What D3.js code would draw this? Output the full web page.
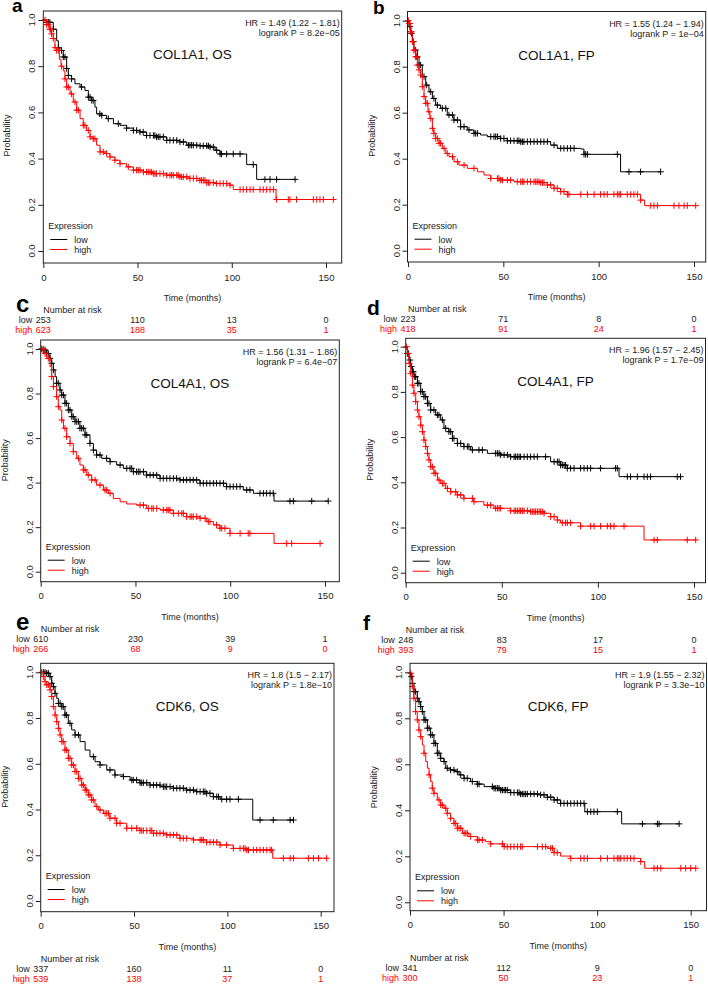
<!DOCTYPE html>
<html>
<head>
<meta charset="utf-8">
<script src="https://cdn.jsdelivr.net/npm/d3@7"></script>
<style>
  body { margin: 0; background: #fff; }
  svg { display: block; font-family: "Liberation Sans", Arial, sans-serif; }
</style>
</head>
<body>
<svg id="chart" width="708" height="986"></svg>
<script>
// ---- data ----
var panelLetters = ["a", "b", "c", "d", "e", "f"];
var titles = ["COL1A1, OS", "COL1A1, FP", "COL4A1, OS", "COL4A1, FP", "CDK6, OS", "CDK6, FP"];
var hrLines = ["HR = 1.49 (1.22 \u2212 1.81)", "HR = 1.55 (1.24 \u2212 1.94)", "HR = 1.56 (1.31 \u2212 1.86)",
               "HR = 1.96 (1.57 \u2212 2.45)", "HR = 1.8 (1.5 \u2212 2.17)", "HR = 1.9 (1.55 \u2212 2.32)"];
var pLines = ["logrank P = 8.2e\u221205", "logrank P = 1e\u221204", "logrank P = 6.4e\u221207",
              "logrank P = 1.7e\u221209", "logrank P = 1.8e\u221210", "logrank P = 3.3e\u221210"];
var xTicks = [0, 50, 100, 150];
var yTicks = [0, 0.2, 0.4, 0.6, 0.8, 1.0];
var riskTimes = [0, 50, 100, 150];
var riskLow = [[253, 110, 13, 0], [223, 71, 8, 0], [610, 230, 39, 1], [248, 83, 17, 0], [337, 160, 11, 0], [341, 112, 9, 0]];
var riskHigh = [[623, 188, 35, 1], [418, 91, 24, 1], [266, 68, 9, 0], [393, 79, 15, 1], [539, 138, 37, 1], [300, 50, 23, 1]];

// step points [month, survival] and censor times
var aLow = [[0,1],[1.8,0.99],[5.3,0.96],[7.1,0.91],[8,0.88],[8.8,0.868],[10.6,0.84],[12.4,0.79],[13.3,0.76],[15,0.745],[16.8,0.724],[19.5,0.71],[22.1,0.695],[23.9,0.666],[25.7,0.652],[27.4,0.623],[28.3,0.594],[31,0.587],[33.6,0.573],[37.2,0.551],[40.7,0.544],[44.2,0.532],[47.8,0.522],[51.3,0.515],[54.8,0.5],[60.1,0.494],[65.5,0.479],[72.5,0.472],[76.1,0.458],[83.2,0.455],[88.5,0.45],[91.1,0.436],[93.8,0.42],[107.9,0.374],[113.2,0.31]];
var aLowCens = [1.8,2.7,3.5,5.3,8,9.7,10.6,11.5,12.4,13.3,15,20.3,23.9,24.8,25.7,26.5,30,31,34.5,39.8,44.2,47.8,49.5,51.3,53,54.8,56.6,58.4,59.2,60.1,61,61.9,63.7,65.5,67.2,69,70.8,72.5,74.3,77,77.8,78.7,79.6,81.4,83.2,84.9,86.7,87.6,88.5,90.2,92,93.8,94.6,97.3,100.8,104.4,111.4,117.6,120.3,123.8,133.6];
var aHigh = [[0,1],[1.8,0.98],[3.5,0.96],[4.4,0.94],[5.3,0.92],[6.2,0.88],[7.1,0.868],[8.5,0.83],[9.4,0.8],[10.6,0.78],[11.5,0.745],[12.4,0.71],[14.2,0.68],[15.9,0.645],[17.7,0.61],[19.5,0.573],[21.2,0.544],[23,0.522],[24.8,0.494],[26.5,0.486],[28.3,0.458],[30.1,0.429],[32.7,0.422],[35.4,0.407],[38,0.393],[40.7,0.378],[44.2,0.364],[47.8,0.35],[53.1,0.342],[58.4,0.335],[65.5,0.328],[72.5,0.321],[77.8,0.314],[83.1,0.306],[86.7,0.296],[92,0.292],[99.1,0.285],[100.8,0.266],[123.5,0.223]];
var aHighCens = [0.9,1.8,2.7,3.5,3.9,4.4,5.3,6.2,7.1,8,9.7,11.5,12.4,13.3,15,16.8,17.7,18.6,21.2,22.1,23.9,24.8,26.5,27.4,30.1,31.8,33.6,35.4,38,40.7,45.1,47.8,49.5,50.4,51.3,53.1,54.8,55.7,56.6,57.5,58.4,59.3,60.1,61.9,63.7,65.5,67.2,68.1,69,70.8,71.6,72.5,73.4,74.3,76.1,77.8,79.6,81.4,83.1,84,84.9,85.8,86.7,87.6,88.4,90.2,92,93.8,95.5,97.3,99.1,104.4,106.1,107.9,109.7,111.4,115,116.7,118.5,120.3,122.1,123.8,130,130.9,134.4,143.3,145.1,146.8,148.6,153.9];

var bLow = [[0,1],[0.5,0.974],[1.4,0.945],[2.3,0.909],[3.1,0.872],[4.9,0.843],[5.8,0.807],[7.5,0.757],[9.3,0.72],[11,0.691],[12.8,0.662],[14.5,0.633],[17.1,0.619],[20.6,0.59],[24.1,0.568],[27.6,0.539],[31.1,0.525],[34.6,0.51],[38.1,0.503],[41.6,0.496],[48.6,0.488],[52.1,0.478],[59.1,0.474],[74.8,0.459],[78.3,0.445],[90.6,0.442],[92.3,0.419],[111.5,0.343]];
var bLowCens = [1,1.8,2.8,4,4.9,5.8,6.6,8.4,9.8,11.9,13.6,15.4,18,19.8,21.5,23.3,24.1,25.9,27.6,29.4,32,34.6,35.5,36.4,43.4,45.1,46,46.9,48.6,50.3,52.1,53.8,55.6,57.3,58.2,59.1,60,60.8,62.6,64.3,66.1,67.8,69.6,71.3,73.1,76.6,80.1,81.8,83.6,85.3,87.1,92.3,93.2,94.1,109.8,115.9,122,132.5];
var bHigh = [[0,1],[0.5,0.988],[1.4,0.952],[2.3,0.909],[3.1,0.872],[4,0.843],[4.9,0.807],[5.8,0.786],[6.6,0.764],[7.5,0.713],[8.4,0.67],[9.3,0.641],[10.5,0.604],[11.5,0.575],[12.8,0.532],[13.6,0.51],[14.5,0.488],[16.3,0.467],[18,0.445],[19.8,0.423],[21.5,0.409],[24.1,0.387],[26.7,0.372],[31.1,0.358],[36.4,0.343],[39.9,0.329],[43.4,0.314],[48.6,0.307],[55.6,0.3],[69.6,0.296],[73.1,0.286],[76.6,0.271],[80.1,0.257],[83.6,0.245],[122,0.22],[124.1,0.196]];
var bHighCens = [0.2,0.7,1,1.4,1.7,2.3,2.8,3.1,3.7,4,4.5,4.9,5.8,6.6,7.5,8.4,9.3,10.1,11,11.9,12.8,13.6,14.5,15.4,16.3,17.1,18.9,20.6,23.3,25.9,29.4,34.6,43.4,46.9,47.7,48.6,49.5,52.1,53.8,57.3,59.1,60,60.8,62.6,64.3,66.1,67,67.8,68.7,69.6,70.5,71.3,73.1,74.8,76.6,78.3,80.1,81.8,83.6,84.4,90.6,94.1,97.6,101,102.8,104.5,108,109.8,110.7,111.5,115,116.8,118.5,120.3,122,127.3,129,130.8,139.5,142.1,144.8,146.5,150.9];

var cLow = [[0,1],[1.4,0.996],[3.2,0.98],[4.9,0.958],[5.8,0.936],[6.7,0.906],[7.6,0.876],[8.4,0.846],[10.2,0.816],[11.1,0.793],[12.8,0.756],[14.6,0.726],[16.4,0.696],[18.1,0.674],[20.7,0.644],[23.4,0.614],[26,0.576],[27.8,0.546],[29.5,0.524],[32.2,0.509],[36.6,0.494],[40.1,0.479],[43.6,0.464],[48.9,0.449],[55.9,0.434],[63,0.419],[73.5,0.412],[84.1,0.397],[98.1,0.382],[106.9,0.367],[112.2,0.352],[123.1,0.317]];
var cLowCens = [0.5,1.4,2.3,3.2,4,4.9,5.8,6.7,8.4,9.3,10.2,11.1,12,12.8,13.7,14.6,15.5,16.4,17.2,18.1,19,19.9,20.7,21.6,22.5,23.4,24.3,26,27.8,29.5,31.3,34.8,36.6,41.9,45.4,47.1,48,48.9,50.6,51.5,52.4,54.2,55.9,57.7,59.4,61.2,63,64.7,66.5,68.2,70,71.7,73.5,75.3,77,78.8,80.5,82.3,84.1,85.8,87.6,89.3,91.1,92.8,94.6,96.4,98.1,99.9,101.6,103.4,105.2,108.7,110.4,115.7,117.5,119.2,121,122.7,131.5,133.3,143,151.7];
var cHigh = [[0,1],[2.3,0.98],[3.2,0.958],[4.9,0.921],[5.8,0.876],[6.7,0.831],[8.4,0.786],[9.3,0.741],[10.2,0.726],[11.1,0.681],[12,0.644],[13.7,0.606],[15.5,0.576],[17.2,0.539],[19,0.509],[20.7,0.479],[22.5,0.457],[24.3,0.434],[26.9,0.412],[29.5,0.389],[33.1,0.367],[35.7,0.352],[38.3,0.329],[41.9,0.314],[45.4,0.304],[50.6,0.299],[55.9,0.284],[63,0.277],[70,0.262],[77,0.247],[84.1,0.24],[87.6,0.225],[91.1,0.21],[94.6,0.195],[99.9,0.172],[123.1,0.127]];
var cHighCens = [0.5,1.4,2.3,4,5.8,6.7,8.4,9.3,11.1,12.8,13.7,15.5,17.2,19.9,22.5,23.4,25.1,26.9,28.7,31.3,33.9,34.8,36.6,52.4,54.2,56.8,58.6,59.4,61.2,64.7,66.5,67.3,68.2,70,72.6,74.4,75.3,77,78.8,79.7,80.5,82.3,84.1,86.7,88.4,89.3,92.8,94.6,95.5,97.2,99.9,105.2,109.5,110.4,129.8,132.4,147.4];

var dLow = [[0,1],[0.9,0.97],[1.7,0.941],[2.6,0.912],[3.5,0.889],[4.3,0.867],[6.1,0.838],[7.8,0.801],[9.5,0.779],[11.3,0.749],[13,0.72],[15.6,0.698],[18.2,0.676],[19.9,0.639],[22.5,0.624],[24.3,0.594],[26.9,0.572],[30.3,0.558],[33.8,0.543],[42.5,0.528],[49.4,0.521],[54.6,0.513],[75.4,0.491],[80.6,0.476],[84.1,0.462],[111,0.425]];
var dLowCens = [0.9,1.4,2.3,2.9,3.5,4,4.7,5.2,6.1,6.9,7.8,8.7,9.5,10.4,11.3,12.1,13,14.7,16.5,17.3,19.1,20.8,22.5,23.4,24.3,25.1,26.9,28.6,30.3,32.1,32.9,34.7,38.1,39.9,46.8,47.7,48.6,49.4,51.2,52.9,54.6,56.4,57.2,58.1,59,59.8,61.6,63.3,65,66.8,68.5,72.8,77.2,78.9,79.8,80.6,81.5,82.4,83.2,84.1,85.8,87.6,91,92.8,94.5,96.2,101.4,109.2,110.1,115.3,117,120.5,124,125.7,127.4,141.3,143];
var dHigh = [[0,1],[0.9,0.97],[1.7,0.926],[2.6,0.882],[3.5,0.83],[4.3,0.794],[5.2,0.757],[6.1,0.72],[6.9,0.69],[7.8,0.653],[8.7,0.624],[9.5,0.587],[10.4,0.558],[11.3,0.528],[12.1,0.499],[13,0.469],[14.7,0.44],[16.5,0.41],[18.2,0.395],[20.8,0.373],[23.4,0.358],[26.9,0.344],[30.3,0.329],[35.5,0.314],[40.7,0.299],[45.9,0.285],[54.6,0.274],[65,0.27],[72,0.263],[75.4,0.248],[78.9,0.233],[80.6,0.221],[91,0.206],[124,0.145]];
var dHighCens = [0.5,1.2,1.9,2.6,3.5,4.3,5.2,6.1,6.9,7.8,8.7,9.5,10.4,11.3,12.1,13,13.9,14.7,15.6,17.3,19.1,19.9,21.7,23.4,26,26.9,28.6,30.3,34.7,35.5,42.5,44.2,46.8,47.7,48.6,49.4,54.6,56.4,57.2,58.1,59,59.8,60.7,61.6,63.3,65,65.9,66.8,67.6,68.5,69.4,70.2,71.1,72,75.4,77.2,78.9,81.5,83.2,84.1,85.8,91,96.2,98,101.4,104.9,106.6,108.4,113.6,129.2,130.9,146.5,150.9];

var eLow = [[0,1],[3.2,0.996],[5,0.981],[5.9,0.952],[6.8,0.937],[7.7,0.908],[8.6,0.886],[9.5,0.864],[11.3,0.85],[13,0.813],[14.8,0.777],[16.6,0.748],[18.4,0.726],[21.1,0.697],[23.8,0.66],[26.4,0.631],[29.1,0.609],[31.8,0.595],[35.4,0.573],[39.8,0.551],[44.3,0.544],[47.9,0.529],[53.2,0.517],[58.6,0.507],[64,0.5],[71.1,0.493],[78.2,0.485],[83.6,0.478],[88.9,0.471],[92.5,0.456],[96.1,0.445],[113.6,0.354]];
var eLowCens = [1.4,2.3,3.2,4.1,5,5.9,6.8,7.7,9.5,10.4,11.3,12.1,13,13.9,15.7,18.4,20.2,28.2,31.8,37.1,39.8,44.3,48.8,49.6,51.4,53.2,54.1,55,56.8,58.6,60.4,62.1,63.9,65.7,66.6,67.5,69.3,71.1,72.9,74.6,76.4,78.2,80,81.8,83.6,85.4,87.1,88,88.9,90.7,92.5,94.3,95.2,97,99.6,101.4,105.9,117.5,124.6,133.6,135.4];
var eHigh = [[0,1],[1.4,0.981],[2.3,0.959],[3.2,0.945],[5,0.923],[5.9,0.894],[6.8,0.85],[7.7,0.813],[8.6,0.784],[9.5,0.755],[10.4,0.726],[11.3,0.697],[13,0.66],[14.8,0.624],[16.6,0.595],[18.4,0.566],[20.2,0.536],[22,0.507],[23.8,0.485],[25.5,0.464],[27.3,0.442],[29.1,0.413],[30.9,0.398],[33.6,0.383],[37.1,0.362],[40.7,0.34],[46.1,0.318],[53.2,0.308],[60.4,0.296],[67.5,0.289],[74.6,0.274],[81.8,0.267],[88.9,0.257],[96.1,0.245],[103.2,0.23],[110.4,0.223],[124.3,0.187]];
var eHighCens = [0.5,1.4,2.3,3.2,4.1,5,5.9,6.8,7.7,8.6,9.5,10.4,11.3,12.1,13,13.9,14.8,15.7,16.6,17.5,18.4,19.3,20.2,21.1,22,22.9,23.8,24.6,25.5,26.4,27.3,28.2,30,31.8,34.5,35.4,36.3,37.1,39.8,40.7,42.5,46.1,48.8,51.4,53.2,54.1,55,56.8,58.6,59.5,60.4,62.1,63.9,65.7,67.5,69.3,71.1,72.9,74.6,76.4,78.2,81.8,85.4,86.3,87.1,88.9,90.7,92.5,94.3,96.1,99.6,103.2,106.8,108.6,109.5,110.4,111.3,113.9,115.7,117.5,119.3,121.1,122.9,123.7,130,133.6,135.4,143.4,146.1,148.8,153.2];

var fLow = [[0,1],[0.4,0.981],[1.2,0.952],[2.1,0.916],[3.9,0.887],[4.8,0.872],[5.7,0.851],[6.6,0.829],[7.5,0.793],[9.3,0.757],[11,0.728],[12.8,0.691],[14.6,0.648],[16.4,0.626],[18.2,0.612],[19.1,0.583],[21.7,0.575],[24.4,0.568],[26.2,0.554],[28.9,0.539],[32.4,0.525],[36,0.514],[39.6,0.503],[44.9,0.496],[48.5,0.488],[53.8,0.477],[59.1,0.471],[69.8,0.467],[73.4,0.457],[77,0.445],[80.5,0.43],[93.4,0.394],[113.1,0.341]];
var fLowCens = [0.7,1.4,2.1,3,3.9,4.8,5.7,6.6,7.5,8.4,9.3,10.2,11,11.9,12.8,13.7,14.6,15.5,16.4,18.2,19.9,21.7,23.5,25.3,27.1,28.9,30.6,33.3,36,36.9,44,44.9,45.8,46.7,47.6,48.5,49.4,50.3,51.1,52,53.8,55.6,57.4,58.3,59.1,60,60.9,61.8,62.7,64.5,66.3,68.1,69.8,71.6,73.4,75.2,77,78.7,80.5,82.3,84.1,85.9,87.7,89.4,91.2,93,94.8,96.6,98.3,100.1,110.8,124.2,132.2,133.1,143.8];
var fHigh = [[0,1],[0.4,0.996],[1.2,0.938],[2.1,0.887],[3,0.829],[3.9,0.793],[4.8,0.749],[5.7,0.72],[6.6,0.684],[7.5,0.648],[8.4,0.612],[9.3,0.583],[10.2,0.554],[11,0.525],[11.9,0.496],[12.8,0.474],[14.6,0.445],[16.4,0.423],[18.2,0.409],[19.9,0.387],[21.7,0.365],[23.5,0.343],[25.3,0.322],[28,0.3],[31.5,0.286],[36,0.271],[40.4,0.264],[43.1,0.254],[50.3,0.242],[73.4,0.235],[77,0.216],[80.5,0.201],[85.9,0.191],[123.3,0.177],[125.4,0.148]];
var fHighCens = [0.4,1.2,2.1,3,3.9,4.8,5.7,7.5,10.2,11.9,12.8,15.5,16.4,17.3,19.1,19.9,21.7,23.5,24.4,25.3,26.2,27.1,28.9,29.8,30.6,32.4,36,36.9,38.7,43.1,49.4,50.3,52,53.8,55.6,57.4,59.1,60,68.1,70.7,72.5,75.2,76.1,77,78.7,85.9,91.2,93,94.8,101.9,105.5,109,110.8,111.7,112.6,114.4,116.1,117.9,119.7,123.3,130.4,132.2,134,144.7,147.3,150,152.7];

var lowSteps = [aLow, bLow, cLow, dLow, eLow, fLow];
var lowCens = [aLowCens, bLowCens, cLowCens, dLowCens, eLowCens, fLowCens];
var highSteps = [aHigh, bHigh, cHigh, dHigh, eHigh, fHigh];
var highCens = [aHighCens, bHighCens, cHighCens, dHighCens, eHighCens, fHighCens];

// ---- layout (pixel frame of each panel) ----
var layout = [
  {L: 43.3, R: 341.7, T: 11, B: 263, x0: 43.3, x150: 326, y1: 20, y0: 251, lx: 12, ly: 12, ls: 19},
  {L: 407.5, R: 705.7, T: 11.5, B: 262, x0: 408, x150: 694, y1: 20.7, y0: 250.7, lx: 373, ly: 14, ls: 19},
  {L: 40.7, R: 339.3, T: 340, B: 581.7, x0: 40.7, x150: 325, y1: 349, y0: 571.7, lx: 16, ly: 312, ls: 24},
  {L: 405.7, R: 705.5, T: 338.3, B: 582.7, x0: 405.7, x150: 694, y1: 346.7, y0: 572.7, lx: 367, ly: 315, ls: 21},
  {L: 40.7, R: 334, T: 663.3, B: 911.7, x0: 40.7, x150: 320.7, y1: 672.3, y0: 901, lx: 16, ly: 630, ls: 24},
  {L: 410, R: 706.5, T: 663.3, B: 910.7, x0: 410, x150: 690.7, y1: 672.3, y0: 902.3, lx: 363, ly: 630, ls: 21}
];

var RED = "#ff0000";
var svg = d3.select("#chart");

function survivalAt(steps, t) {
  var i = d3.bisector(function (d) { return d[0]; }).right(steps, t) - 1;
  return steps[Math.max(0, i)][1];
}

function drawCurve(g, steps, cens, x, y, color) {
  var tEnd = Math.max(steps[steps.length - 1][0], d3.max(cens));
  var pts = steps.concat([[tEnd, steps[steps.length - 1][1]]]);
  var line = d3.line().curve(d3.curveStepAfter)
    .x(function (d) { return x(d[0]); })
    .y(function (d) { return y(d[1]); });
  g.append("path").attr("d", line(pts)).attr("fill", "none")
    .attr("stroke", color).attr("stroke-width", 1);
  var s = 3.2;
  g.append("path").attr("fill", "none").attr("stroke", color).attr("stroke-width", 1)
    .attr("d", cens.map(function (t) {
      var cx = x(t), cy = y(survivalAt(steps, t));
      return "M" + (cx - s) + "," + cy + "h" + (2 * s) + "M" + cx + "," + (cy - s) + "v" + (2 * s);
    }).join(""));
}

layout.forEach(function (lay, i) {
  var x = d3.scaleLinear().domain([0, 150]).range([lay.x0, lay.x150]);
  var y = d3.scaleLinear().domain([0, 1]).range([lay.y0, lay.y1]);
  var g = svg.append("g");

  // curves first, box over them
  drawCurve(g, lowSteps[i], lowCens[i], x, y, "#000");
  drawCurve(g, highSteps[i], highCens[i], x, y, RED);

  g.append("rect").attr("x", lay.L).attr("y", lay.T)
    .attr("width", lay.R - lay.L).attr("height", lay.B - lay.T)
    .attr("fill", "none").attr("stroke", "#222").attr("stroke-width", 1);

  // x axis
  var xa = g.append("g").attr("transform", "translate(0," + lay.B + ")")
    .call(d3.axisBottom(x).tickValues(xTicks).tickSize(5).tickPadding(6).tickSizeOuter(0));
  xa.select(".domain").remove();
  xa.selectAll("text").attr("font-size", 9.5).attr("font-family", "Liberation Sans, Arial, sans-serif")
    .attr("fill", "#222");
  xa.selectAll("line").attr("stroke", "#222");

  // y axis, labels rotated as in R
  var ya = g.append("g").attr("transform", "translate(" + lay.L + ",0)")
    .call(d3.axisLeft(y).tickValues(yTicks).tickFormat(d3.format(".1f")).tickSize(5).tickSizeOuter(0));
  ya.select(".domain").remove();
  ya.selectAll("line").attr("stroke", "#222");
  ya.selectAll("text").remove();
  yTicks.forEach(function (v) {
    g.append("text").attr("transform", "translate(" + (lay.L - 8) + "," + y(v) + ") rotate(-90)")
      .attr("text-anchor", "middle").attr("font-size", 9.5).attr("fill", "#222")
      .text(d3.format(".1f")(v));
  });

  g.append("text").attr("transform", "translate(" + (lay.L - 33) + "," + ((lay.y0 + lay.y1) / 2) + ") rotate(-90)")
    .attr("text-anchor", "middle").attr("font-size", 9).attr("fill", "#222").text("Probability");
  g.append("text").attr("x", (lay.L + lay.R) / 2).attr("y", lay.B + 38)
    .attr("text-anchor", "middle").attr("font-size", 9).attr("fill", "#222").text("Time (months)");

  // title and statistics
  g.append("text").attr("x", (lay.L + lay.R) / 2).attr("y", lay.T + 48)
    .attr("text-anchor", "middle").attr("font-size", 13.5).attr("fill", "#111").text(titles[i]);
  g.append("text").attr("x", lay.R - 2).attr("y", lay.T + 15)
    .attr("text-anchor", "end").attr("font-size", 9).attr("fill", "#222").text(hrLines[i]);
  g.append("text").attr("x", lay.R - 2).attr("y", lay.T + 25)
    .attr("text-anchor", "end").attr("font-size", 9).attr("fill", "#222").text(pLines[i]);

  // legend
  g.append("text").attr("x", lay.L + 5).attr("y", lay.y0 - 22)
    .attr("font-size", 9).attr("fill", "#222").text("Expression");
  [["low", "#000", 11.5], ["high", RED, 1.5]].forEach(function (it) {
    var ly = lay.y0 - it[2];
    g.append("line").attr("x1", lay.L + 7).attr("x2", lay.L + 24).attr("y1", ly).attr("y2", ly)
      .attr("stroke", it[1]).attr("stroke-width", 1);
    g.append("text").attr("x", lay.L + 31).attr("y", ly + 3.3)
      .attr("font-size", 9).attr("fill", "#222").text(it[0]);
  });

  // number at risk
  g.append("text").attr("x", lay.x0).attr("y", lay.B + 50)
    .attr("font-size", 9).attr("fill", "#222").text("Number at risk");
  [["low", riskLow[i], "#222", 60.3], ["high", riskHigh[i], RED, 70.3]].forEach(function (row) {
    var ry = lay.B + row[3];
    g.append("text").attr("x", lay.x0 - 11).attr("y", ry).attr("text-anchor", "end")
      .attr("font-size", 9).attr("fill", row[2]).text(row[0]);
    g.selectAll(null).data(row[1]).enter().append("text")
      .attr("x", function (d, k) { return x(riskTimes[k]); }).attr("y", ry)
      .attr("text-anchor", "middle").attr("font-size", 9).attr("fill", row[2])
      .text(function (d) { return d; });
  });

  // panel letter
  svg.append("text").attr("x", lay.lx).attr("y", lay.ly)
    .attr("font-size", lay.ls).attr("font-weight", "bold").attr("fill", "#000")
    .text(panelLetters[i]);
});
</script>
</body>
</html>
